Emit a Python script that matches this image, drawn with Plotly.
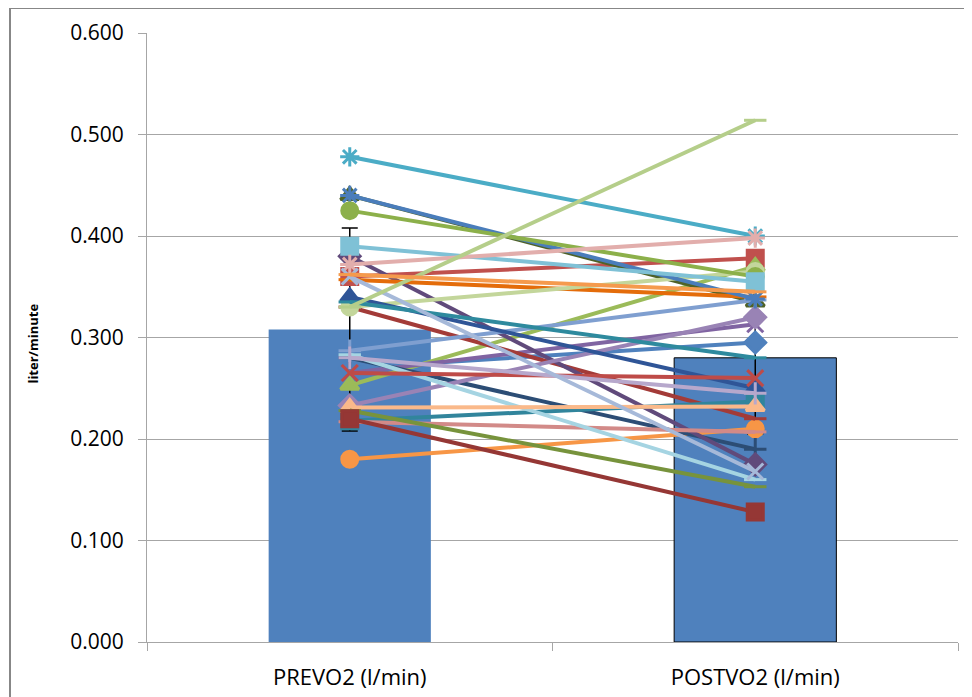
import plotly.graph_objects as go

categories = ["PREVO2 (l/min)", "POSTVO2 (l/min)"]
bar_means = [0.308, 0.280]
bar_errors = [0.100, 0.075]

series_names = [f"S{i}" for i in range(1, 32)]
pre_values = [0.270, 0.360, 0.253, 0.265, 0.478, 0.180, 0.280, 0.330, 0.440, 0.380,
              0.218, 0.357, 0.287, 0.217, 0.330, 0.233, 0.283, 0.231, 0.440, 0.425,
              0.390, 0.372, 0.340, 0.335, 0.265, 0.280, 0.360, 0.228, 0.220, 0.330, 0.362]
post_values = [0.295, 0.378, 0.370, 0.313, 0.400, 0.210, 0.190, 0.220, 0.335, 0.175,
               0.237, 0.340, 0.337, 0.207, 0.365, 0.320, 0.160, 0.232, 0.338, 0.360,
               0.355, 0.398, 0.250, 0.280, 0.260, 0.245, 0.168, 0.153, 0.128, 0.514, 0.345]
series_colors = ["#4F81BD", "#C0504D", "#9BBB59", "#8064A2", "#4BACC6", "#F79646",
                 "#2C4D75", "#A33B38", "#4F6228", "#604A7B", "#31859C", "#E46C0A",
                 "#7F9FD0", "#D28A88", "#C3D69B", "#9983B5", "#A5D4E2", "#FAB98A",
                 "#4A7DBB", "#8CB04A", "#7FC1D6", "#E2AEAC", "#2F5597", "#2E8A9E",
                 "#BE4B48", "#B7A8CC", "#A6B9D9", "#77933C", "#953735", "#B5CE8A", "#F59A4D"]
series_markers = ["diamond", "square", "triangle-up", "x-thin-open", "asterisk-open", "circle",
                  "cross-thin-open", "line-ew-open", "triangle-up", "diamond", "square", "line-ew-open",
                  "cross-thin-open", "line-ew-open", "circle", "diamond", "line-ew-open", "triangle-up",
                  "asterisk-open", "circle", "square", "asterisk-open", "triangle-up", "line-ew-open",
                  "x-thin-open", "cross-thin-open", "x-thin-open", "line-ew-open", "square", "line-ew-open",
                  "line-ew-open"]

fig = go.Figure()
fig.add_trace(go.Bar(
    x=categories, y=bar_means, width=0.4,
    marker=dict(color="#4F81BD", line=dict(color=["rgba(0,0,0,0)", "#000000"], width=1)),
    error_y=dict(type="data", array=bar_errors, color="#000000", thickness=1.5, width=8),
    showlegend=False, hoverinfo="skip"))

for name, a, b, c, m in zip(series_names, pre_values, post_values, series_colors, series_markers):
    fig.add_trace(go.Scatter(
        x=categories, y=[a, b], mode="lines+markers", name=name,
        line=dict(color=c, width=4),
        marker=dict(symbol=m, size=16, color=c, line=dict(color=c, width=3)),
        showlegend=False))

# the page body adds an 8px offset, so the figure is drawn from (8, 8)
off = 8
W, H = 972 - off, 697 - off
ml, mr, mt, mb = 147 - off, 14, 33 - off, 55
pw, ph = W - ml - mr, H - mt - mb

fig.update_layout(
    width=W, height=H,
    margin=dict(l=ml, r=mr, t=mt, b=mb, autoexpand=False),
    paper_bgcolor="white", plot_bgcolor="white",
    font=dict(family="Open Sans, Liberation Sans, sans-serif", color="#000000"),
    shapes=[dict(type="rect", xref="paper", yref="paper",
                 x0=(10 - 147) / pw, x1=(968 - 147) / pw,
                 y0=-0.2, y1=(642 - 8) / ph,
                 line=dict(color="#878787", width=2), layer="below")],
    annotations=[dict(text="<b>liter/minute</b>", textangle=-90, xref="paper", yref="paper",
                      x=0, y=0.49, xanchor="center", yanchor="middle", xshift=33 - 147,
                      showarrow=False, font=dict(size=13))],
)
fig.update_yaxes(
    range=[0, 0.6], dtick=0.1, tickformat=".3f", automargin=False,
    showgrid=True, gridcolor="#A6A6A6", gridwidth=1,
    showline=True, linecolor="#A6A6A6", linewidth=1,
    ticks="outside", ticklen=8, tickcolor="#A6A6A6", ticklabelstandoff=10,
    tickfont=dict(size=21), zeroline=False)
fig.update_xaxes(
    automargin=False,
    showline=True, linecolor="#A6A6A6", linewidth=1,
    ticks="outside", ticklen=8, tickcolor="#A6A6A6", tickson="boundaries",
    ticklabelstandoff=16,
    tickfont=dict(size=22), showgrid=False)

fig.write_html("out.html")
